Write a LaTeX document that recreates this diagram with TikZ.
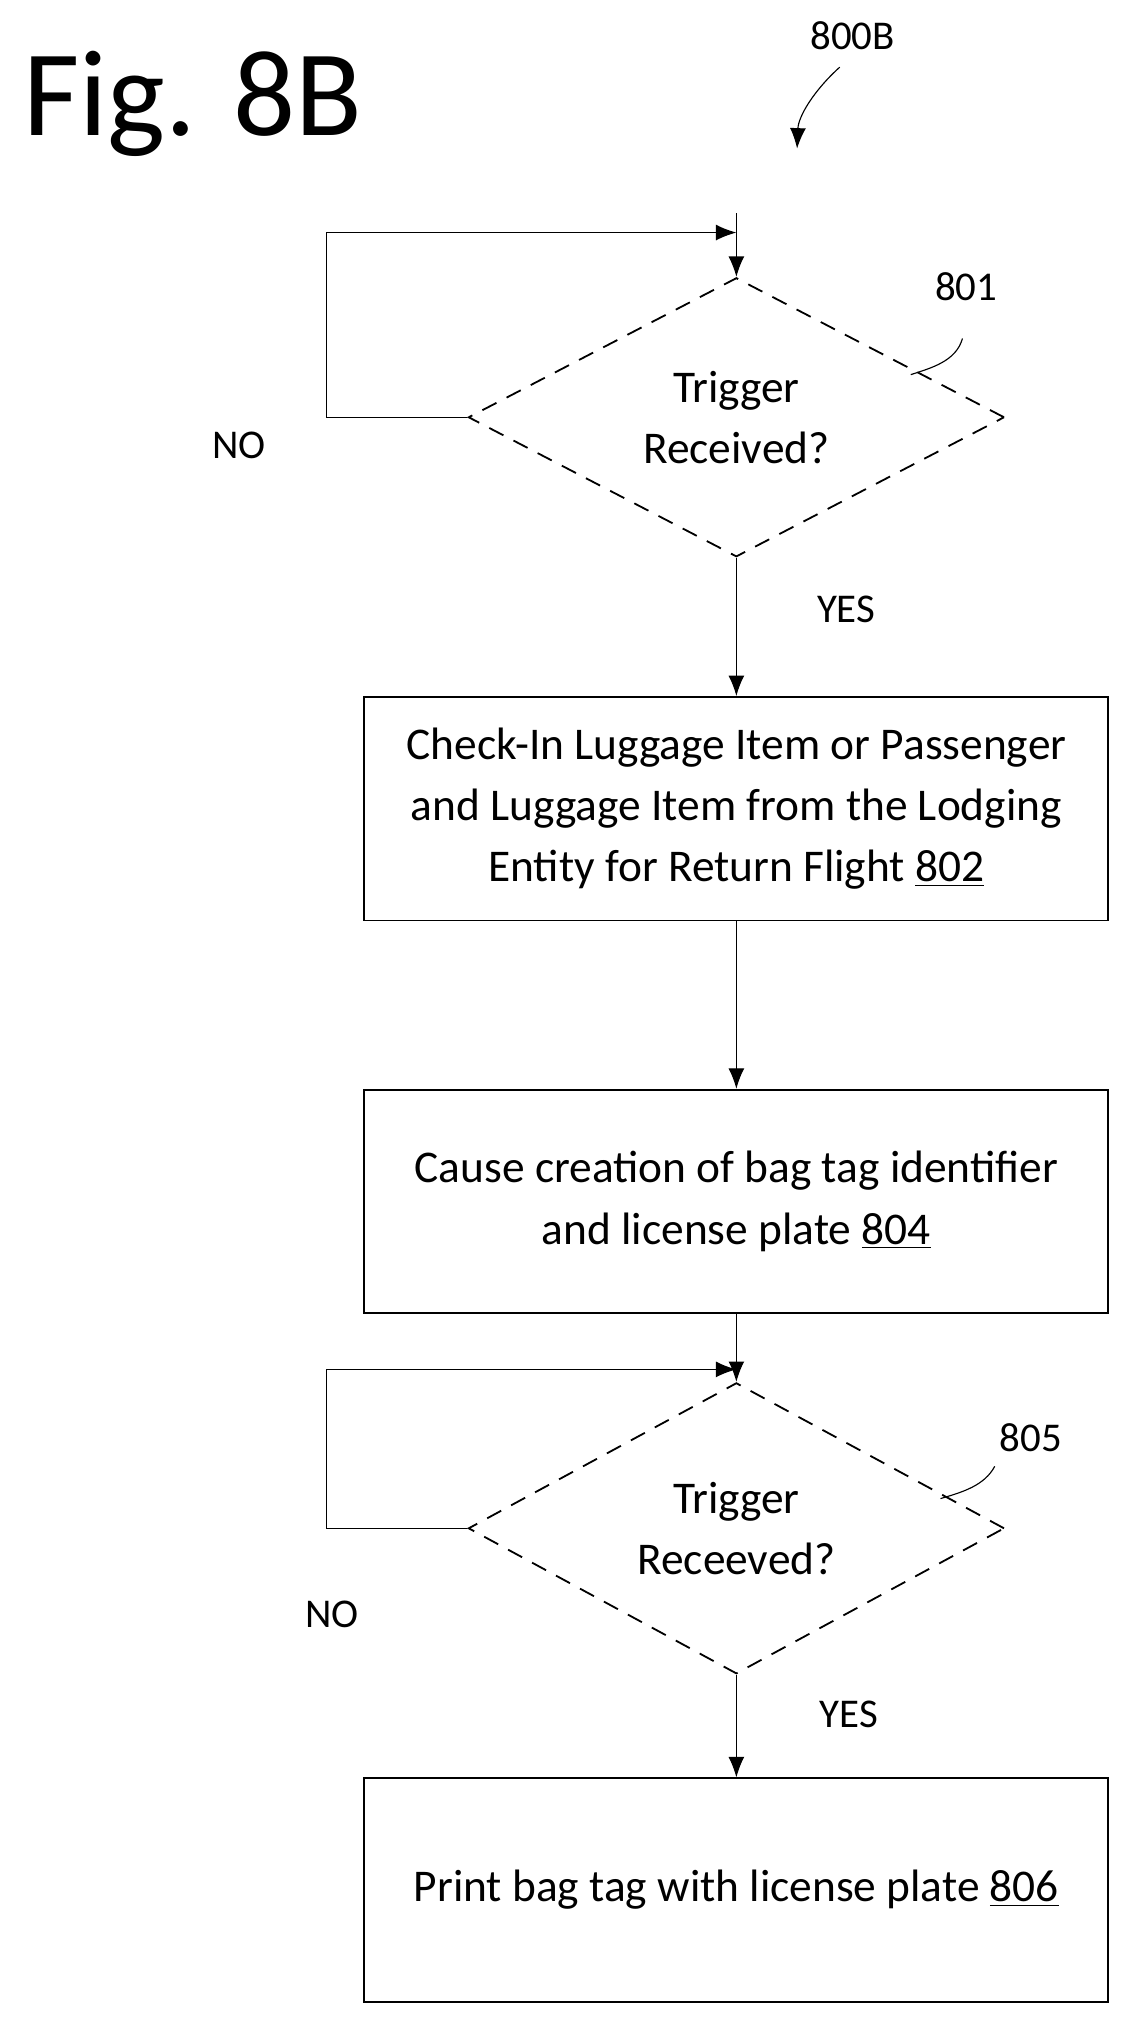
\documentclass[tikz,border=0pt]{standalone}
\usepackage{fontspec}
\setmainfont{Carlito}
\usetikzlibrary{arrows.meta, shapes.geometric, positioning}
\tikzset{
  procbox/.style={rectangle, draw, line width=0.8pt, minimum width=11.52cm, minimum height=3.46cm, align=center, font=\fontsize{20}{27}\selectfont},
  check/.style={diamond, draw, dashed, dash pattern=on 7pt off 5pt, line width=0.8pt, minimum width=8.3cm, minimum height=3.3cm, inner sep=0pt, align=center, font=\fontsize{20}{27}\selectfont},
  flow/.style={-{Latex[length=9pt,width=7pt]}, line width=0.5pt},
  tag/.style={font=\fontsize{18}{22}\selectfont}
}
\begin{document}
\begin{tikzpicture}[x=0.02cm, y=-0.02cm]
  \useasboundingbox (0,0) rectangle (880,1576);
  \node[anchor=base west, font=\fontsize{54}{56}\selectfont] (fig) at (12,105) {Fig. 8B};
  \node[tag] (ref) at (660,28) {800B};
  \draw[flow] (650,52) .. controls (630,70) and (618,90) .. (617,115);

  \node[check] (d1) at (570,323) {Trigger\\Received?};
  \node[tag] (n1) at (748,222) {801};
  \draw[line width=0.5pt] (745,262) .. controls (740,280) and (720,285) .. (705,290);
  \coordinate (t1) at (570,165);
  \coordinate (j1) at (570,180);
  \draw[flow] (t1) -- (d1.north);
  \draw[flow] (d1.west) -- (253,323) -- (253,180) -- (j1);
  \node[tag] (no1) at (185,345) {NO};
  \node[tag] (yes1) at (655,472) {YES};

  \node[procbox] (s802) at (570,626) {Check-In Luggage Item or Passenger\\and Luggage Item from the Lodging\\Entity for Return Flight \underline{802}};
  \node[procbox] (s804) at (570,930) {Cause creation of bag tag identifier\\and license plate \underline{804}};
  \node[check] (d2) at (570,1183) {Trigger\\Receeved?};
  \node[tag] (n2) at (798,1113) {805};
  \draw[line width=0.5pt] (770,1135) .. controls (762,1150) and (745,1155) .. (728,1160);
  \coordinate (j2) at (570,1060);
  \draw[flow] (d2.west) -- (253,1183) -- (253,1060) -- (j2);
  \node[tag] (no2) at (257,1250) {NO};
  \node[tag] (yes2) at (657,1327) {YES};
  \node[procbox] (s806) at (570,1463) {Print bag tag with license plate \underline{806}};

  \draw[flow] (d1.south) -- (s802.north);
  \draw[flow] (s802.south) -- (s804.north);
  \draw[flow] (s804.south) -- (d2.north);
  \draw[flow] (d2.south) -- (s806.north);
\end{tikzpicture}
\end{document}
